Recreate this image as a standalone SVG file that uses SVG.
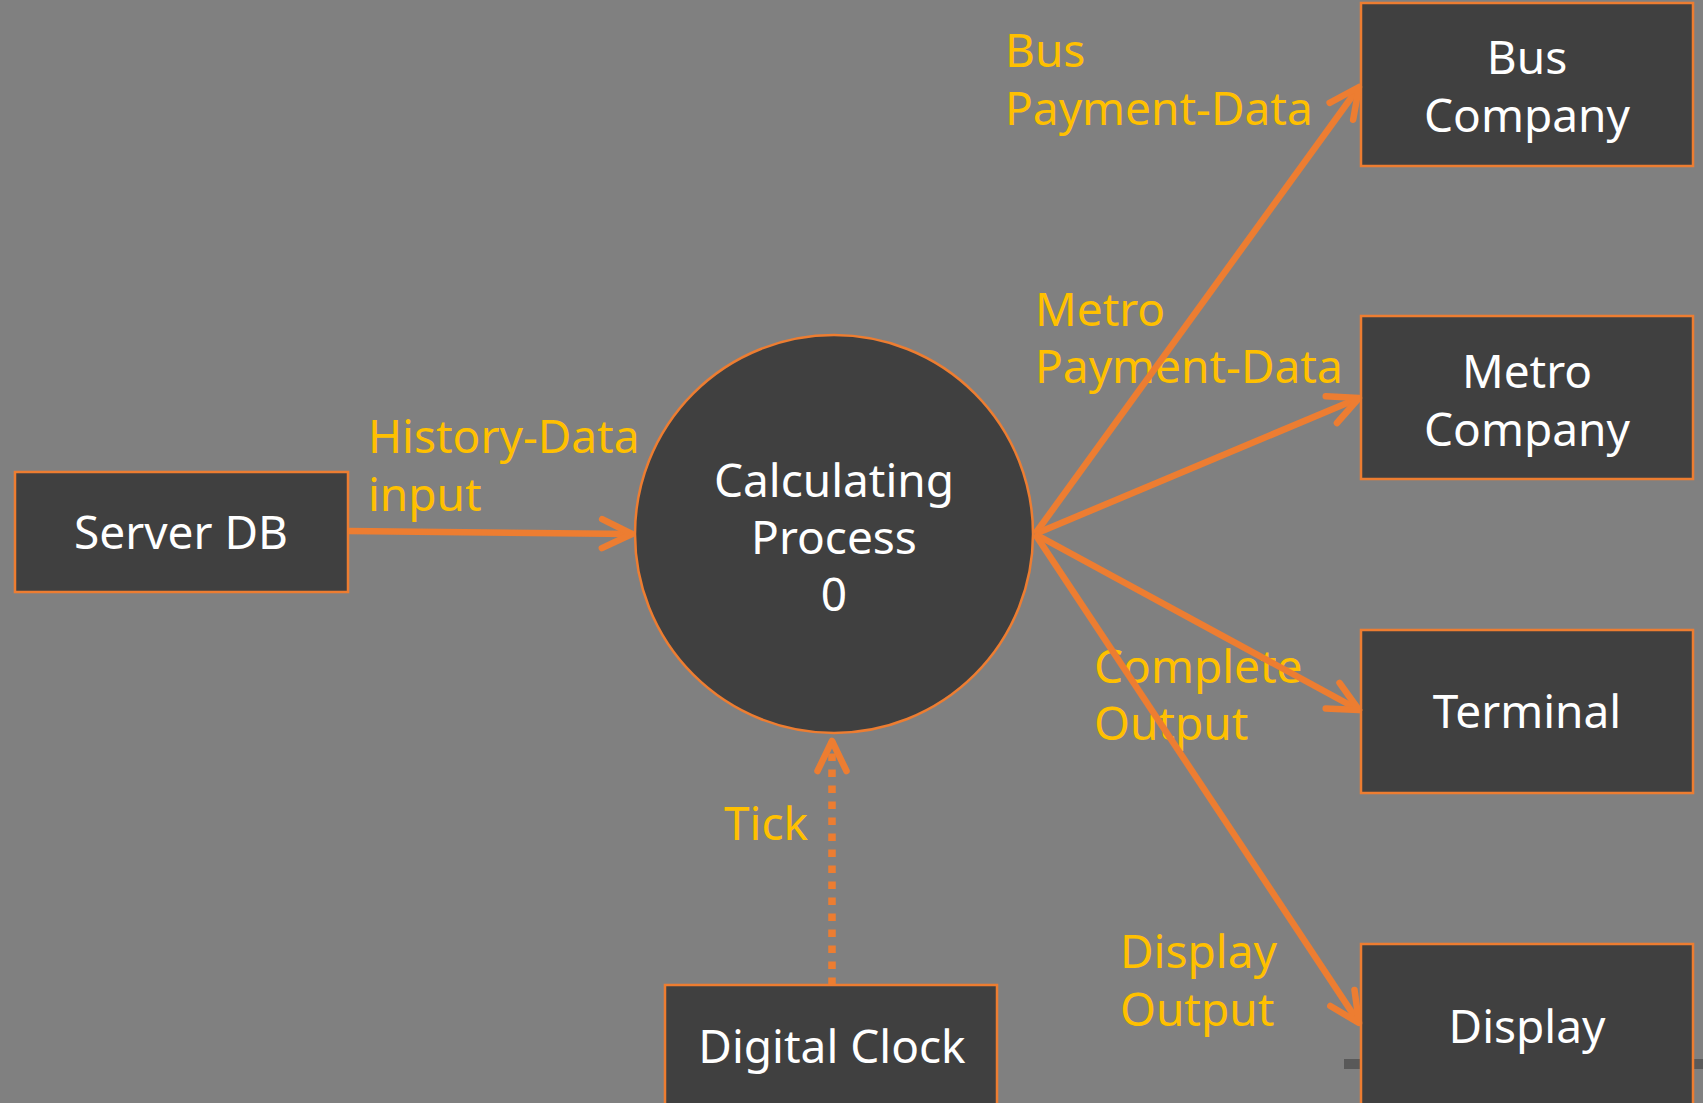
<svg xmlns="http://www.w3.org/2000/svg" width="1703" height="1103" viewBox="0 0 1703 1103">
<style>
.box{fill:#404040;stroke:#ED7D31;stroke-width:2.5}
.nt{font-family:"Noto Sans","Open Sans","DejaVu Sans",sans-serif;font-size:46px;fill:#FFFFFF;text-anchor:middle}
.lb{font-family:"Noto Sans","Open Sans","DejaVu Sans",sans-serif;font-size:46px;fill:#FFC000}
.ln{fill:none;stroke:#ED7D31;stroke-width:6.5}
.dot{fill:none;stroke:#ED7D31;stroke-width:7.5;stroke-dasharray:7.5 8.5}
</style>
<defs>
<marker id="arr" viewBox="-36 -20 40 40" refX="0" refY="0" markerWidth="40" markerHeight="40" markerUnits="userSpaceOnUse" orient="auto">
<path d="M-30,-14.5 L0,0 L-30,14.5" fill="none" stroke="#ED7D31" stroke-width="6.5" stroke-linecap="round" stroke-linejoin="round" stroke-dasharray="none"/>
</marker>
</defs>
<rect x="0" y="0" width="1703" height="1103" fill="#808080"/>
<rect x="1344" y="1059" width="359" height="10" fill="#595959"/>

<g id="labels">
<text class="lb" x="1005" y="67">Bus</text>
<text class="lb" x="1005" y="125">Payment-Data</text>
<text class="lb" x="1035" y="326">Metro</text>
<text class="lb" x="1035" y="383">Payment-Data</text>
<text class="lb" x="368" y="453">History-Data</text>
<text class="lb" x="368" y="511">input</text>
<text class="lb" x="1094" y="683">Complete</text>
<text class="lb" x="1094" y="740">Output</text>
<text class="lb" x="1120" y="968">Display</text>
<text class="lb" x="1120" y="1026">Output</text>
<text class="lb" x="724" y="840">Tick</text>
</g>

<g id="process">
<circle cx="834" cy="534" r="199" fill="#404040" stroke="#ED7D31" stroke-width="2.5"/>
<text class="nt" x="834" y="497">Calculating</text>
<text class="nt" x="834" y="554">Process</text>
<text class="nt" x="834" y="611">0</text>
</g>
<g id="server-db">
<rect class="box" x="15" y="472" width="333" height="120"/>
<text class="nt" x="181" y="549">Server DB</text>
</g>
<g id="bus-company">
<rect class="box" x="1361" y="3" width="332" height="163"/>
<text class="nt" x="1527" y="74">Bus</text>
<text class="nt" x="1527" y="132">Company</text>
</g>
<g id="metro-company">
<rect class="box" x="1361" y="316" width="332" height="163"/>
<text class="nt" x="1527" y="388">Metro</text>
<text class="nt" x="1527" y="446">Company</text>
</g>
<g id="terminal">
<rect class="box" x="1361" y="630" width="332" height="163"/>
<text class="nt" x="1527" y="728">Terminal</text>
</g>
<g id="display">
<rect class="box" x="1361" y="944" width="332" height="175"/>
<text class="nt" x="1527" y="1043">Display</text>
</g>
<g id="digital-clock">
<rect class="box" x="665" y="985" width="332" height="135"/>
<text class="nt" x="832" y="1063">Digital Clock</text>
</g>

<g id="connectors">
<path class="ln" d="M348,531 L632,534" marker-end="url(#arr)"/>
<path class="dot" d="M832,985 L832,741" marker-end="url(#arr)"/>
<path class="ln" d="M1035,534 L1359,87" marker-end="url(#arr)"/>
<path class="ln" d="M1035,534 L1359,398" marker-end="url(#arr)"/>
<path class="ln" d="M1035,534 L1359,710" marker-end="url(#arr)"/>
<path class="ln" d="M1035,534 L1359,1023" marker-end="url(#arr)"/>
</g>
</svg>
